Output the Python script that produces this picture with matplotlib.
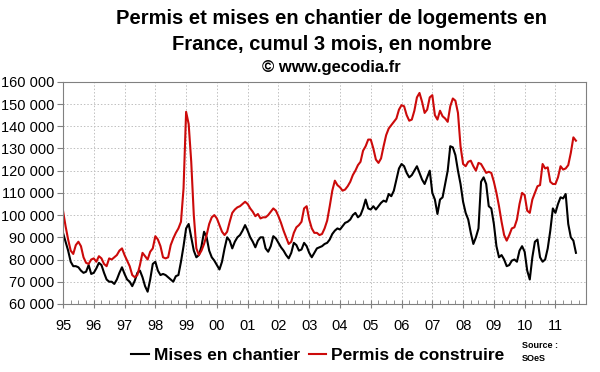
import numpy as np
import matplotlib
matplotlib.use('Agg')
import matplotlib.pyplot as plt
from matplotlib.ticker import FixedLocator, MultipleLocator, FuncFormatter

plt.rcParams['font.family'] = ['Liberation Sans', 'DejaVu Sans']

# cumul 3 mois, en milliers, mensuel de janvier 1995 a septembre 2011
mises_en_chantier = [
    92, 88, 84, 79, 77, 77, 76.5, 75, 74, 74.5, 77.5, 73.5,
    74, 76, 78.5, 77.5, 74, 71, 70, 70, 69, 71, 74, 76.5,
    73.5, 71, 70, 68, 70.5, 74, 75, 72, 68, 65.5, 71, 78,
    79, 75, 73, 73.5, 73, 72, 71, 70, 72.5, 73, 79, 86,
    94, 96, 90, 84, 81, 82, 86, 92.5, 90, 84, 81, 79.5,
    77.5, 75.5, 79, 85, 90, 88.5, 85, 88, 90, 91, 93, 95.5,
    93, 90, 88, 85.5, 88.5, 90, 90, 85, 83.5, 86, 90.5, 89.5,
    87.5, 85.5, 84, 82, 80.5, 83, 87.5, 86.5, 84, 84.5, 87.5, 86,
    83, 81, 83, 85, 85.5, 86, 87, 87.5, 89, 91.5, 93, 94,
    93.5, 95, 96.5, 97, 98, 100, 101, 99, 100, 103, 107, 103,
    102.5, 104, 102.5, 104, 105.5, 106.5, 106, 109.5, 108.5, 111, 116, 121,
    123, 122, 119, 117, 118, 120, 122, 119, 116, 114, 117, 120,
    110, 107, 100.5, 107, 108, 114, 120, 131, 130.5, 127, 120, 114,
    106, 101, 98, 92, 87, 90, 94, 115, 117, 114, 104, 103,
    96, 86, 81, 82, 80, 77, 77.5, 79.5, 80, 79, 84, 86,
    83.5, 75, 71, 81, 88, 89, 81, 79, 80, 85, 93, 103,
    101, 105, 108, 107.5, 109.5, 96, 90, 88.5, 83,
]
permis_de_construire = [
    102, 95, 89, 84, 82.5, 86.5, 88, 86, 81, 78.5, 78, 80,
    80.5, 79, 81.5, 80.5, 78, 77, 80.5, 80, 81, 82, 84, 85,
    82, 79.5, 77, 73, 72, 73, 77.5, 83, 81.5, 80, 83.5, 85,
    90.5, 89, 86, 81, 80.5, 81, 86.5, 89.5, 92, 94, 97, 112,
    146.5, 141, 124, 100, 85, 82, 84, 87, 91, 96, 99, 100,
    98.5, 95.5, 92.5, 91, 92.5, 97, 101, 102.5, 103.5, 104, 105, 106,
    105, 103, 101.5, 99.5, 100.5, 98.5, 99, 99, 100, 101.5, 103, 102,
    99.5, 96.5, 93, 90, 87, 88, 92, 94.5, 95.5, 97, 103, 104,
    98, 94, 92, 92, 91, 91.5, 94, 97.5, 104, 111, 115.5, 113.5,
    112.5, 111, 111.5, 113, 115, 118, 120, 122.5, 124, 129, 131, 134,
    134, 130, 125, 123.5, 125.5, 131, 136, 139, 140.5, 142, 143.5, 147.5,
    149.5, 149, 145, 142.5, 143, 147, 153, 155, 151, 146, 147.5, 153,
    154, 145, 143, 147, 144.5, 143.5, 142, 149, 152.5, 151.5, 146, 131,
    123, 122, 124, 124.5, 122, 120, 123.5, 123, 121, 119, 119.5, 119,
    115, 110, 104, 97, 91, 88.5, 91, 94, 94.5, 98, 105, 110,
    109, 102, 101, 107, 110, 113, 113.5, 123, 121, 121.5, 115, 114,
    114, 117, 122, 120.5, 121, 122.5, 128, 135, 133.5,
]
annees = list(range(1995, 2012))
etiquettes = ['%02d' % (a % 100) for a in annees]

mois = 1995 + np.arange(len(mises_en_chantier)) / 12

fig = plt.figure(figsize=(6, 3.72), dpi=100)
ax = fig.add_axes([0.105, 0.183, 0.872, 0.597])

ax.plot(mois, np.array(mises_en_chantier) * 1000, color='black', lw=1.5,
        label='Mises en chantier')
ax.plot(mois, np.array(permis_de_construire) * 1000, color='#cc0a0a', lw=1.5,
        label='Permis de construire')

ax.set_xlim(1995, 2012)
ax.set_ylim(60000, 160000)
ax.xaxis.set_major_locator(FixedLocator(annees))
ax.xaxis.set_minor_locator(MultipleLocator(0.25))
ax.set_xticklabels(etiquettes)
ax.yaxis.set_major_locator(MultipleLocator(10000))
ax.yaxis.set_major_formatter(FuncFormatter(lambda v, p: '{:,.0f}'.format(v).replace(',', ' ')))

ax.grid(True, which='major', color='#c0c0c0', linestyle=(0, (1.5, 2)), linewidth=0.7)
for s in ax.spines.values():
    s.set_color('#808080')
ax.tick_params(axis='y', labelsize=10.5, length=4, color='#808080', pad=2)
ax.tick_params(axis='x', which='major', labelsize=10.5, direction='inout', length=6,
               color='#808080', pad=8)
ax.tick_params(axis='x', which='minor', direction='in', length=3, color='#808080')

fig.text(0.553, 0.95, 'Permis et mises en chantier de logements en',
         ha='center', va='center', fontsize=14.5, fontweight='bold')
fig.text(0.553, 0.88, 'France, cumul 3 mois, en nombre',
         ha='center', va='center', fontsize=14.5, fontweight='bold')
fig.text(0.553, 0.818, '© www.gecodia.fr',
         ha='center', va='center', fontsize=12, fontweight='bold')

fig.legend(loc='center', bbox_to_anchor=(0.53, 0.045), ncol=2, frameon=False,
           prop={'weight': 'bold', 'size': 12.5}, handlelength=1.0,
           handletextpad=0.3, columnspacing=0.5)
fig.text(0.87, 0.054, 'Source :\nSOeS', ha='left', va='center',
         fontsize=6.5, fontweight='bold', linespacing=1.6)

plt.savefig('out.png', dpi=100)
